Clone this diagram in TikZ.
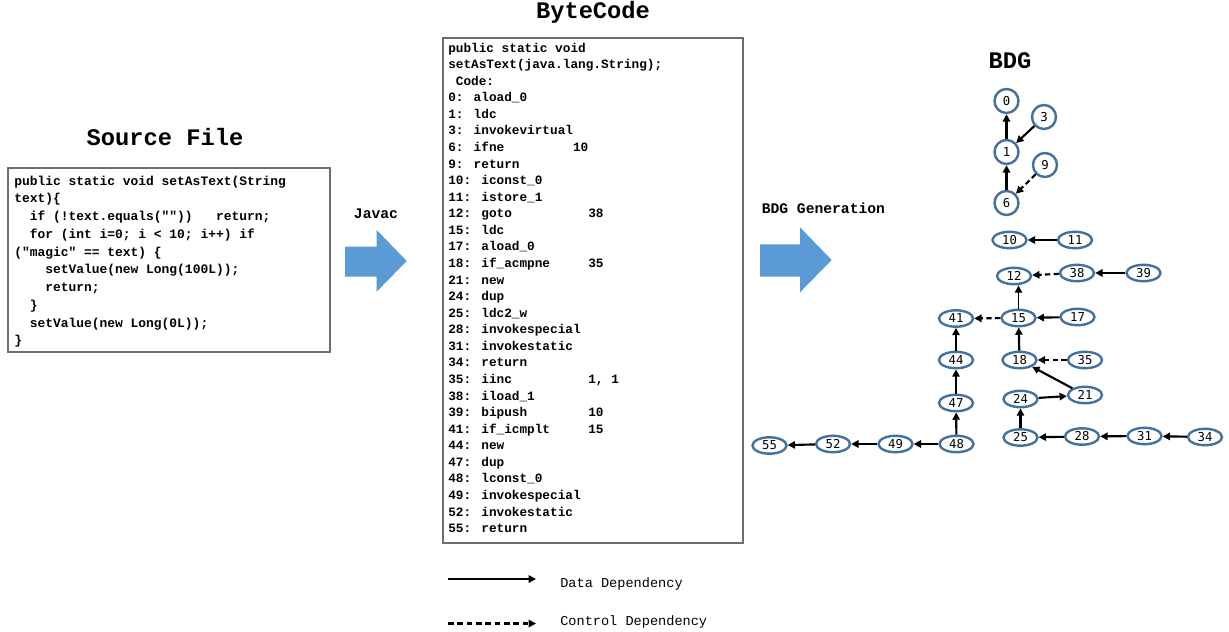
\documentclass[tikz,border=0pt]{standalone}
\usepackage{fontspec}
\usetikzlibrary{shapes.geometric,arrows.meta}
\newfontfamily\codefont{Liberation Mono}
\newfontfamily\labelfont{DejaVu Sans Mono}
\definecolor{flowblue}{RGB}{91,155,213}
\definecolor{nodeblue}{RGB}{66,113,160}
\definecolor{boxgray}{RGB}{110,110,110}
% horizontal gap of #1 monospaced character cells
\newcommand{\cols}[1]{\hspace*{#1\fontcharwd\font`0\relax}}
\tikzset{
  title/.style={font=\codefont\bfseries\fontsize{17.8}{20}\selectfont, inner sep=0pt, anchor=base},
  steplabel/.style={font=\codefont\bfseries\fontsize{11}{13}\selectfont, inner sep=0pt},
  codetext/.style={inner sep=0pt, anchor=north west, align=left},
  codebox/.style={draw=boxgray, line width=0.9pt},
  flowarrow/.style={fill=flowblue, draw=none},
  bdgnode/.style={ellipse, draw=nodeblue, line width=1.8pt, fill=white, inner sep=0pt,
    minimum width=25.5pt, minimum height=12.3pt, font=\labelfont\fontsize{9.2}{10}\selectfont},
  bdgcirc/.style={circle, draw=nodeblue, line width=1.8pt, fill=white, inner sep=0pt,
    minimum size=18pt, font=\labelfont\fontsize{9.2}{10}\selectfont},
  data/.style={line width=1.6pt, -{Triangle[length=5.5pt,width=5.5pt]}},
  ctrl/.style={line width=1.6pt, dash pattern=on 4pt off 2.5pt, -{Triangle[length=5.5pt,width=5.5pt]}},
  legendtext/.style={font=\codefont\fontsize{10.2}{12}\selectfont, inner sep=0pt, anchor=base west},
}
\begin{document}
\begin{tikzpicture}[x=0.75pt,y=-0.75pt]
\useasboundingbox (0,0) rectangle (1229,632);

% ---------- titles ----------
\node[title] (srctitle) at (165,145) {Source File};
\node[title] (bctitle) at (593,18.5) {ByteCode};
\node[title] (bdgtitle) at (1010,68.3) {BDG};

% ---------- source code ----------
\draw[codebox] (8,168) rectangle (330,352);
\node[codetext, font=\codefont\bfseries\fontsize{9.7}{13.3}\selectfont] (srccode) at (14,175.5) {%
public static void setAsText(String\\
text)\{\\
\cols{2}if (!text.equals(""))\cols{3}return;\\
\cols{2}for (int i=0; i < 10; i++) if\\
("magic" == text) \{\\
\cols{4}setValue(new Long(100L));\\
\cols{4}return;\\
\cols{2}\}\\
\cols{2}setValue(new Long(0L));\\
\}};

% ---------- bytecode ----------
\draw[codebox] (443,38) rectangle (743,543);
\node[codetext, font=\codefont\bfseries\fontsize{9.55}{12.43}\selectfont] (bytecode) at (448,42.5) {%
public static void\\
setAsText(java.lang.String);\\
\cols{1}Code:\\
0: aload\_0\\
1: ldc\\
3: invokevirtual\\
6: ifne\cols{9}10\\
9: return\\
10: iconst\_0\\
11: istore\_1\\
12: goto\cols{10}38\\
15: ldc\\
17: aload\_0\\
18: if\_acmpne\cols{5}35\\
21: new\\
24: dup\\
25: ldc2\_w\\
28: invokespecial\\
31: invokestatic\\
34: return\\
35: iinc\cols{10}1, 1\\
38: iload\_1\\
39: bipush\cols{8}10\\
41: if\_icmplt\cols{5}15\\
44: new\\
47: dup\\
48: lconst\_0\\
49: invokespecial\\
52: invokestatic\\
55: return};

% ---------- transformation steps ----------
\node[steplabel, anchor=base] (javac) at (376,218.3) {Javac};
\fill[flowarrow] (345,246.7) -- (376.7,246.7) -- (376.7,230) -- (406.7,261)
  -- (376.7,291.7) -- (376.7,276.7) -- (345,276.7) -- cycle;
\node[steplabel, anchor=base west] (bdggen) at (761.5,213.3) {BDG Generation};
\fill[flowarrow] (760,244.3) -- (800,244.3) -- (800,227.3) -- (831.7,260)
  -- (800,292.3) -- (800,276.7) -- (760,276.7) -- cycle;

% ---------- BDG ----------
\node[bdgcirc] (n0) at (1006.5,101) {0};
\node[bdgcirc] (n3) at (1044,117) {3};
\node[bdgcirc] (n1) at (1006.5,152) {1};
\node[bdgcirc] (n9) at (1045,165) {9};
\node[bdgcirc] (n6) at (1006.5,203) {6};

\node[bdgnode] (n10) at (1009.5,240) {10};
\node[bdgnode] (n11) at (1075,240) {11};
\node[bdgnode] (n12) at (1014,276) {12};
\node[bdgnode] (n38) at (1077,273) {38};
\node[bdgnode] (n39) at (1143.5,273) {39};
\node[bdgnode] (n41) at (956,318.5) {41};
\node[bdgnode] (n15) at (1018.5,318) {15};
\node[bdgnode] (n17) at (1077.5,317) {17};
\node[bdgnode] (n44) at (956,360) {44};
\node[bdgnode] (n18) at (1019.5,360) {18};
\node[bdgnode] (n35) at (1085,360) {35};
\node[bdgnode] (n47) at (956,403) {47};
\node[bdgnode] (n24) at (1020.5,399) {24};
\node[bdgnode] (n21) at (1085,395) {21};
\node[bdgnode] (n48) at (956.5,444) {48};
\node[bdgnode] (n25) at (1020.5,437.5) {25};
\node[bdgnode] (n28) at (1082,436.5) {28};
\node[bdgnode] (n31) at (1144.5,436) {31};
\node[bdgnode] (n34) at (1205,437) {34};
\node[bdgnode] (n55) at (769.5,445.5) {55};
\node[bdgnode] (n52) at (833,444) {52};
\node[bdgnode] (n49) at (895.5,444) {49};

\draw[data] (n1) -- (n0);
\draw[data] (n3) -- (n1);
\draw[data] (n6) -- (n1);
\draw[ctrl] (n9) -- (n6);
\draw[data] (n11) -- (n10);
\draw[ctrl] (n38) -- (n12);
\draw[data] (n39) -- (n38);
\draw[data, line width=1pt] (n15.north) -- (n15.north |- n12.south);
\draw[ctrl] (n15) -- (n41);
\draw[data] (n17) -- (n15);
\draw[data] (n18) -- (n15);
\draw[data] (n44) -- (n41);
\draw[ctrl] (n35) -- (n18);
\draw[data] (n21) -- (n18);
\draw[data] (n24) -- (n21);
\draw[data] (n47) -- (n44);
\draw[data] (n48) -- (n47);
\draw[data] (n25) -- (n24);
\draw[data] (n28) -- (n25);
\draw[data] (n31) -- (n28);
\draw[data] (n34) -- (n31);
\draw[data] (n48) -- (n49);
\draw[data] (n49) -- (n52);
\draw[data] (n52) -- (n55);

% ---------- legend ----------
\coordinate (ds) at (448,579);
\coordinate (de) at (536,579);
\coordinate (cs) at (448,623.5);
\coordinate (ce) at (536,623.5);
\draw[data] (ds) -- (de);
\draw[ctrl, dash pattern=on 4.2pt off 2.8pt] (cs) -- (ce);
\node[legendtext] (datalbl) at (560,587.3) {Data Dependency};
\node[legendtext] (ctrllbl) at (560,625) {Control Dependency};
\end{tikzpicture}
\end{document}
